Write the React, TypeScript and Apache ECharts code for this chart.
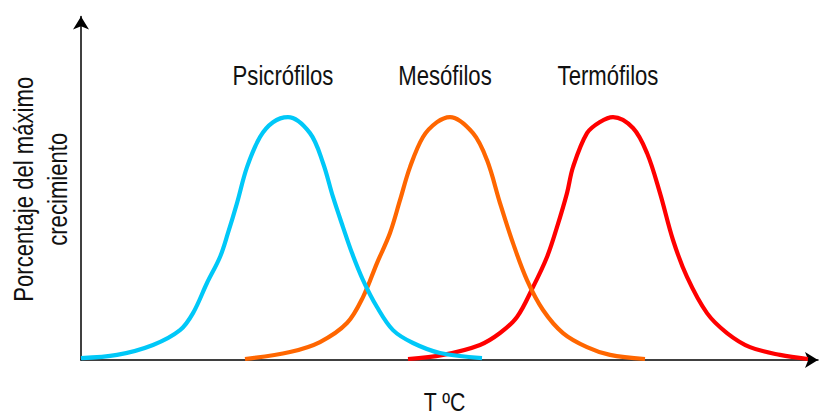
import React, { useEffect, useRef } from "react";
import * as echarts from "echarts";

// Temperature (arbitrary units) and % of maximum growth
const psicroT = [0, 3.6, 7.2, 9.9, 11.2, 12.6, 13.9, 14.7, 15.6, 16.6, 17.9, 19.2, 20.7, 22.9, 24.2, 25.2, 26.2, 27.1, 28.2, 29.6, 31.2, 33.2, 35.9, 40.1];
const psicroY = [0.8, 2.1, 6.2, 12.3, 19.3, 31.7, 42.4, 52.3, 64.6, 79.4, 91.8, 97.9, 100, 93.4, 81.1, 67.1, 54.7, 44.0, 32.9, 21.8, 12.3, 7.0, 2.9, 0.8];

const mesoT = [16.4, 20.9, 23.9, 26.6, 28.2, 29.6, 30.9, 31.9, 32.9, 34.2, 35.6, 36.9, 39.2, 40.6, 41.9, 43.2, 44.6, 46.2, 48.2, 50.6, 52.9, 56.4];
const mesoY = [0.4, 3.3, 7.4, 15.2, 25.9, 39.9, 52.3, 65.8, 79.4, 91.8, 97.9, 100, 93.4, 82.3, 64.6, 48.1, 32.9, 20.6, 11.1, 5.3, 2.1, 0.4];

const termoT = [32.7, 36.2, 39.9, 41.9, 43.6, 45.2, 46.6, 47.6, 48.6, 49.2, 50.6, 51.9, 53.2, 55.2, 56.6, 57.9, 59.2, 60.6, 62.6, 64.6, 66.9, 69.9, 72.7];
const termoY = [0.4, 2.1, 6.2, 11.1, 17.7, 30.0, 42.4, 54.7, 68.7, 79.4, 93.4, 98.0, 100, 95.5, 85.2, 68.7, 49.4, 34.2, 19.3, 11.1, 5.3, 2.1, 0.4];

const seriesNames = ["Psicrófilos", "Mesófilos", "Termófilos"];
const seriesColors = ["#00C8F8", "#FF6600", "#FF0000"];
const xAxisName = "T ºC";
const yAxisName = "Porcentaje del máximo\ncrecimiento";

const FONT = "'Liberation Sans', Arial, sans-serif";
const NARROW = 0.82;

export default function App() {
  const ref = useRef<HTMLDivElement>(null);

  useEffect(() => {
    if (!ref.current) return;
    const chart = echarts.init(ref.current, undefined, { renderer: "svg" });
    const sets = [
      [psicroT, psicroY],
      [mesoT, mesoY],
      [termoT, termoY],
    ];
    chart.setOption({
      animation: false,
      backgroundColor: "#ffffff",
      grid: { left: 81, right: 8, top: 16.5, bottom: 56, containLabel: false, outerBoundsMode: "none" },
      xAxis: {
        type: "value",
        min: 0,
        max: 73.7,
        axisLine: {
          show: true,
          onZero: false,
          symbol: ["none", "arrow"],
          symbolSize: [12, 13],
          lineStyle: { color: "#000", width: 1.5 },
        },
        axisTick: { show: false },
        axisLabel: { show: false },
        splitLine: { show: false },
      },
      yAxis: {
        type: "value",
        min: 0,
        max: 141.4,
        axisLine: {
          show: true,
          symbol: ["none", "arrow"],
          symbolSize: [12, 13],
          lineStyle: { color: "#000", width: 1.5 },
        },
        axisTick: { show: false },
        axisLabel: { show: false },
        splitLine: { show: false },
      },
      series: sets.map((s, i) => ({
        type: "line",
        name: seriesNames[i],
        data: s[0].map((x, j) => [x, s[1][j]]),
        smooth: 0.35,
        showSymbol: false,
        symbol: "none",
        lineStyle: { color: seriesColors[i], width: 4.2 },
        itemStyle: { color: seriesColors[i] },
        z: 3 - i,
      })),
    });

    // place texts using the chart's own scales
    const labelEls: any[] = sets.map((s, i) => {
      let peak = 0;
      s[1].forEach((v, j) => {
        if (v > s[1][peak]) peak = j;
      });
      const p = chart.convertToPixel({ gridIndex: 0 }, [s[0][peak], s[1][peak]]) as number[];
      return {
        type: "text",
        x: p[0] - 5,
        y: p[1] - 41,
        scaleX: NARROW,
        style: {
          text: seriesNames[i],
          fontFamily: FONT,
          fontSize: 27,
          fill: "#111",
          align: "center",
          verticalAlign: "middle",
        },
      };
    });
    const origin = chart.convertToPixel({ gridIndex: 0 }, [0, 0]) as number[];
    const xEnd = chart.convertToPixel({ gridIndex: 0 }, [73.7, 0]) as number[];
    const yTop = chart.convertToPixel({ gridIndex: 0 }, [0, 141.4]) as number[];
    chart.setOption({
      graphic: [
        ...labelEls,
        {
          type: "text",
          x: (origin[0] + xEnd[0]) / 2 - 5,
          y: origin[1] + 42,
          scaleX: NARROW,
          style: {
            text: xAxisName,
            fontFamily: FONT,
            fontSize: 26,
            fill: "#111",
            align: "center",
            verticalAlign: "middle",
          },
        },
        {
          type: "text",
          x: origin[0] - 40,
          y: (origin[1] + yTop[1]) / 2 + 1,
          rotation: Math.PI / 2,
          scaleX: NARROW,
          style: {
            text: yAxisName,
            fontFamily: FONT,
            fontSize: 27,
            lineHeight: 34,
            fill: "#111",
            align: "center",
            verticalAlign: "middle",
          },
        },
      ],
    });
    return () => chart.dispose();
  }, []);

  return (
    <div
      ref={ref}
      style={{ position: "fixed", left: 0, top: 0, width: 826, height: 416 }}
    />
  );
}
